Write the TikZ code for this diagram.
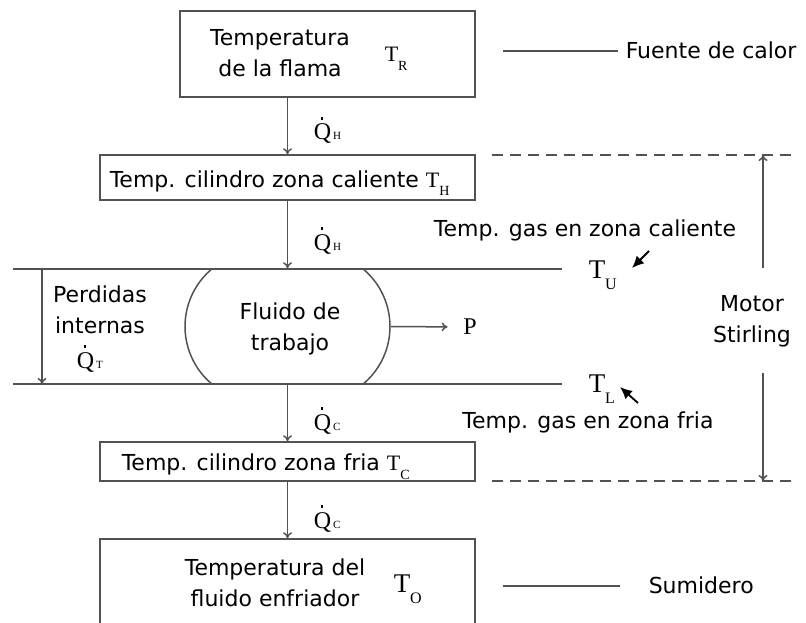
\documentclass[tikz,border=0pt]{standalone}
\usepackage{fontspec}
\setmainfont{DejaVu Sans}
\newfontfamily\romfont{Liberation Serif}
\usetikzlibrary{shapes.misc,arrows.meta}
\definecolor{linea}{gray}{0.32}
\newcommand\temp[2][9pt]{{\romfont T\raisebox{-#1}{\fontsize{14}{14}\selectfont #2}}}
\newcommand\tempg[2][11pt]{{\romfont\fontsize{27}{27}\selectfont T\raisebox{-#1}{\fontsize{16}{16}\selectfont #2}}}
\newcommand\qdot[1]{{\romfont\fontsize{24}{24}\selectfont\rlap{\hspace{7pt}\rule[20pt]{2.6pt}{2.6pt}}Q\kern2pt{\fontsize{11}{11}\selectfont #1}}}
\tikzset{
  caja/.style={draw=linea, inner sep=0pt},
  etiq/.style={inner sep=1pt},
  trazo/.style={draw=linea, dash pattern=on 11pt off 7pt},
  puntero/.style={-{Latex[length=12pt,width=11pt]}, line width=1.8pt, black}
}
\begin{document}
\begin{tikzpicture}[x=1pt,y=-1pt,>={To[length=6pt,width=9pt]},line width=1.5pt,
  font=\fontsize{22}{31}\selectfont]
\useasboundingbox (0,0) rectangle (806,623);
\clip (0,0) rectangle (806,623);
% cajas
\node[caja, minimum width=295pt, minimum height=86pt] (flama) at (327.5,54) {};
\node[caja, minimum width=375pt, minimum height=45pt] (cilc) at (287.5,177.5) {};
\node[rounded rectangle, rounded rectangle arc length=100, draw=linea, inner sep=0pt,
  minimum width=205pt, minimum height=115pt] (fluido) at (287.5,326.5) {};
\node[caja, minimum width=375pt, minimum height=39pt] (cilf) at (287.5,461.5) {};
\node[caja, minimum width=375pt, minimum height=120pt] (enfr) at (287.5,599) {};
% textos
\node[etiq, align=center] (tflama) at (280,53) {Temperatura\\de la flama};
\node[etiq, anchor=base west] (TR) at (383,62) {\temp{R}};
\node[etiq, anchor=base west] (tcilc) at (108,187) {Temp. cilindro zona caliente \temp{H}};
\node[etiq, align=center] (tfluido) at (290,329) {Fluido de\\trabajo};
\node[etiq, anchor=base west] (tcilf) at (120,470) {Temp. cilindro zona fria \temp{C}};
\node[etiq, align=center] (tenfr) at (275,583) {Temperatura del\\fluido enfriador};
\node[etiq, anchor=base west] (TO) at (392,592) {\tempg{O}};
\node[etiq, anchor=base west] (QH1) at (312,140) {\qdot{H}};
\node[etiq, anchor=base west] (QH2) at (312,250) {\qdot{H}};
\node[etiq, anchor=base west] (QC1) at (312,430) {\qdot{C}};
\node[etiq, anchor=base west] (QC2) at (312,528) {\qdot{C}};
\node[etiq] (P) at (470,327) {\romfont\fontsize{24}{24}\selectfont P};
\node[etiq, align=center] (perd) at (100,310) {Perdidas\\internas};
\node[etiq, anchor=base west] (QT) at (75,368) {\qdot{T}};
\node[etiq, anchor=base west] (TU) at (587,278) {\tempg{U}};
\node[etiq, anchor=base west] (TL) at (587,392) {\tempg{L}};
\node[etiq] (gasc) at (585,230) {Temp. gas en zona caliente};
\node[etiq] (gasf) at (588,422) {Temp. gas en zona fria};
\node[etiq, anchor=west] (fuente) at (624,50) {Fuente de calor};
\node[etiq, anchor=west] (sumid) at (647,585) {Sumidero};
\node[etiq, align=center] (motor) at (752,321) {Motor\\Stirling};
% lineas de nivel
\coordinate (sup-i) at (13,269);
\coordinate (sup-d) at (562,269);
\coordinate (inf-i) at (13,384);
\coordinate (inf-d) at (562,384);
\draw[linea] (sup-i) -- (sup-d);
\draw[linea] (inf-i) -- (inf-d);
\draw[trazo] (492,155) -- (795,155);
\draw[trazo] (492,481) -- (795,481);
\draw[linea] (503,51) -- (618,51);
\draw[linea] (503,586) -- (620,586);
% flujos de calor
\draw[->,linea] (flama.south -| cilc.north) -- (cilc.north);
\draw[->,linea] (cilc.south) -- (fluido.north);
\draw[->,linea] (fluido.south) -- (cilf.north);
\draw[->,linea] (cilf.south) -- (enfr.north);
\draw[->,linea,shorten >=14pt] (fluido.east) -- (P.west);
\coordinate (perd-a) at (42,269);
\coordinate (perd-b) at (42,384);
\draw[->,linea] (perd-a) -- (perd-b);
% motor
\coordinate (mot-a) at (763,268);
\coordinate (mot-b) at (763,155);
\coordinate (mot-c) at (763,373);
\coordinate (mot-d) at (763,481);
\draw[->,linea] (mot-a) -- (mot-b);
\draw[->,linea] (mot-c) -- (mot-d);
% indicadores
\coordinate (pu-a) at (649,251);
\coordinate (pu-b) at (632,268);
\coordinate (pl-a) at (638,403);
\coordinate (pl-b) at (620,387);
\draw[puntero] (pu-a) -- (pu-b);
\draw[puntero] (pl-a) -- (pl-b);
\end{tikzpicture}
\end{document}
